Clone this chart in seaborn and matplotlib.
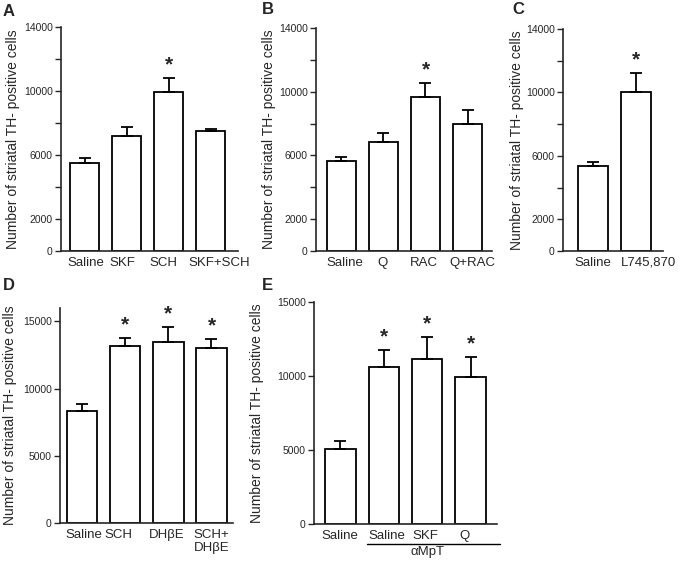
import numpy as np
import pandas as pd
import matplotlib
matplotlib.use("Agg")
import matplotlib.pyplot as plt
import matplotlib.transforms as mtransforms
import seaborn as sns

sns.set_style("ticks")
plt.rcParams['font.family'] = ['Liberation Sans', 'DejaVu Sans']

# panel A
a_groups = ['Saline', 'SKF', 'SCH', 'SKF+SCH']
a_means = [5500, 7200, 9950, 7500]
a_sem = [300, 550, 850, 100]
a_sig = [False, False, True, False]

# panel B
b_groups = ['Saline', 'Q', 'RAC', 'Q+RAC']
b_means = [5650, 6850, 9650, 8000]
b_sem = [250, 550, 900, 850]
b_sig = [False, False, True, False]

# panel C
c_groups = ['Saline', 'L745,870']
c_means = [5350, 10000]
c_sem = [250, 1250]
c_sig = [False, True]

# panel D
d_groups = ['Saline', 'SCH', 'DHβE', 'SCH+\nDHβE']
d_means = [8300, 13150, 13500, 13000]
d_sem = [550, 600, 1100, 700]
d_sig = [False, True, True, True]

# panel E (three last groups are under aMpT)
e_groups = ['Saline', 'aMpT Saline', 'aMpT SKF', 'aMpT Q']
e_labels = ['Saline', 'Saline', 'SKF', 'Q']
e_means = [5100, 10600, 11150, 9950]
e_sem = [500, 1150, 1500, 1350]
e_sig = [False, True, True, True]

ticks_14k = [0, 2000, 4000, 6000, 8000, 10000, 12000, 14000]
ticklabels_14k = ['0', '2000', '', '6000', '', '10000', '', '14000']
ticks_15k = [0, 5000, 10000, 15000]

YLABEL = 'Number of striatal TH- positive cells'
W, H = 680, 565


def rect(l, r, t, b):
    return [l / W, 1 - b / H, (r - l) / W, (b - t) / H]


def draw_panel(fig, box, groups, means, sem, sig, xlim, ylim, yticks, yticklabels,
               letter, labels=None, label_shift=None, labelpad=2):
    ax = fig.add_axes(rect(*box))
    df = pd.DataFrame({'group': groups, 'mean': means})
    sns.barplot(data=df, x='group', y='mean', order=groups, ax=ax, color='white',
                saturation=1, edgecolor='black', linewidth=1.3, width=0.7)
    n = len(groups)
    pos = np.arange(n)
    ax.errorbar(pos, means, yerr=[np.zeros(n), sem], fmt='none', ecolor='black',
                elinewidth=1.3, capsize=4, capthick=1.3, zorder=3)
    for i in range(n):
        if sig[i]:
            ax.annotate('*', (pos[i], means[i] + sem[i]), xytext=(0, 2.5),
                        textcoords='offset points', ha='center', va='bottom',
                        fontsize=15, fontweight='bold')
    ax.set_xlim(*xlim)
    ax.set_ylim(*ylim)
    ax.set_yticks(yticks)
    ax.set_yticklabels(yticklabels, fontsize=7.5)
    ax.set_xticks(pos)
    ax.set_xticklabels(labels if labels is not None else groups, fontsize=9.5)
    ax.tick_params(axis='x', length=0, pad=4)
    ax.tick_params(axis='y', length=4, width=1, pad=2)
    # small horizontal nudges of the category labels, as in the original
    if label_shift is not None:
        for lab, dx in zip(ax.get_xticklabels(), label_shift):
            lab.set_transform(lab.get_transform() +
                              mtransforms.ScaledTranslation(dx / 100, 0, fig.dpi_scale_trans))
    ax.set_xlabel('')
    ax.set_ylabel(YLABEL, fontsize=10, labelpad=labelpad)
    sns.despine(ax=ax)
    for s in ('left', 'bottom'):
        ax.spines[s].set_linewidth(1.2)
    fig.text(letter[1] / W, 1 - letter[2] / H, letter[0], fontsize=12,
             fontweight='bold', ha='left', va='center')
    return ax


fig = plt.figure(figsize=(6.8, 5.65), dpi=100)

draw_panel(fig, (61, 238, 27, 251), a_groups, a_means, a_sem, a_sig,
           (-0.56, 3.65), (0, 14000), ticks_14k, ticklabels_14k, ('A', 3, 12),
           label_shift=[1, -4, -5, 9], labelpad=2.5)
draw_panel(fig, (316, 492, 28, 251), b_groups, b_means, b_sem, b_sig,
           (-0.6, 3.58), (0, 14000), ticks_14k, ticklabels_14k, ('B', 262, 10),
           label_shift=[4, -1, -2, 5], labelpad=2)
draw_panel(fig, (563, 663, 29, 251), c_groups, c_means, c_sem, c_sig,
           (-0.71, 1.62), (0, 14000), ticks_14k, ticklabels_14k, ('C', 512, 10),
           label_shift=[-1, 12], labelpad=1.5)
draw_panel(fig, (60, 233, 308, 523), d_groups, d_means, d_sem, d_sig,
           (-0.52, 3.5), (0, 16000), ticks_15k, [str(t) for t in ticks_15k],
           ('D', 3, 286), label_shift=[1.5, -7, -2, 0], labelpad=4.5)
ax_e = draw_panel(fig, (314, 497, 302, 524), e_groups, e_means, e_sem, e_sig,
                  (-0.61, 3.61), (0, 15000), ticks_15k, [str(t) for t in ticks_15k],
                  ('E', 262, 286), labels=e_labels, label_shift=[-0.5, 3.5, -1.5, -6],
                  labelpad=9)

# aMpT bracket under the last three groups
trans = mtransforms.blended_transform_factory(ax_e.transData, ax_e.transAxes)
ax_e.plot([0.61, 3.68], [-0.088, -0.088], color='black', lw=1, transform=trans,
          clip_on=False)
ax_e.text(2.0, -0.1, 'αMpT', transform=trans, ha='center', va='top', fontsize=9.5)

fig.savefig('out.png', dpi=100)
